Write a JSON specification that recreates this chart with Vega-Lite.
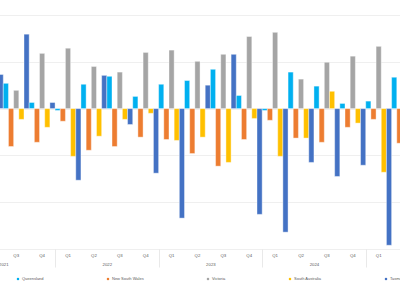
{
  "$schema": "https://vega.github.io/schema/vega-lite/v6.json",
  "width": 400,
  "height": 234,
  "autosize": {"type": "none"},
  "padding": {"left": 0, "top": 15, "right": 0, "bottom": 34},
  "background": "white",
  "config": {"view": {"stroke": null}, "font": "Liberation Sans"},
  "data": {"values": [
    {"q": "2021 Q2", "year": "2021", "state": "Tasmania", "v": 0.73},
    {"q": "2021 Q3", "year": "2021", "state": "Queensland", "v": 0.54},
    {"q": "2021 Q3", "year": "2021", "state": "New South Wales", "v": -0.81},
    {"q": "2021 Q3", "year": "2021", "state": "Victoria", "v": 0.39},
    {"q": "2021 Q3", "year": "2021", "state": "South Australia", "v": -0.23},
    {"q": "2021 Q3", "year": "2021", "state": "Tasmania", "v": 1.59},
    {"q": "2021 Q4", "year": "2021", "state": "Queensland", "v": 0.13},
    {"q": "2021 Q4", "year": "2021", "state": "New South Wales", "v": -0.72},
    {"q": "2021 Q4", "year": "2021", "state": "Victoria", "v": 1.18},
    {"q": "2021 Q4", "year": "2021", "state": "South Australia", "v": -0.40},
    {"q": "2021 Q4", "year": "2021", "state": "Tasmania", "v": 0.13},
    {"q": "2022 Q1", "year": "2022", "state": "Queensland", "v": -0.04},
    {"q": "2022 Q1", "year": "2022", "state": "New South Wales", "v": -0.27},
    {"q": "2022 Q1", "year": "2022", "state": "Victoria", "v": 1.29},
    {"q": "2022 Q1", "year": "2022", "state": "South Australia", "v": -1.02},
    {"q": "2022 Q1", "year": "2022", "state": "Tasmania", "v": -1.53},
    {"q": "2022 Q2", "year": "2022", "state": "Queensland", "v": 0.52},
    {"q": "2022 Q2", "year": "2022", "state": "New South Wales", "v": -0.89},
    {"q": "2022 Q2", "year": "2022", "state": "Victoria", "v": 0.90},
    {"q": "2022 Q2", "year": "2022", "state": "South Australia", "v": -0.59},
    {"q": "2022 Q2", "year": "2022", "state": "Tasmania", "v": 0.71},
    {"q": "2022 Q3", "year": "2022", "state": "Queensland", "v": 0.69},
    {"q": "2022 Q3", "year": "2022", "state": "New South Wales", "v": -0.81},
    {"q": "2022 Q3", "year": "2022", "state": "Victoria", "v": 0.78},
    {"q": "2022 Q3", "year": "2022", "state": "South Australia", "v": -0.23},
    {"q": "2022 Q3", "year": "2022", "state": "Tasmania", "v": -0.34},
    {"q": "2022 Q4", "year": "2022", "state": "Queensland", "v": 0.26},
    {"q": "2022 Q4", "year": "2022", "state": "New South Wales", "v": -0.61},
    {"q": "2022 Q4", "year": "2022", "state": "Victoria", "v": 1.20},
    {"q": "2022 Q4", "year": "2022", "state": "South Australia", "v": -0.10},
    {"q": "2022 Q4", "year": "2022", "state": "Tasmania", "v": -1.38},
    {"q": "2023 Q1", "year": "2023", "state": "Queensland", "v": 0.52},
    {"q": "2023 Q1", "year": "2023", "state": "New South Wales", "v": -0.66},
    {"q": "2023 Q1", "year": "2023", "state": "Victoria", "v": 1.25},
    {"q": "2023 Q1", "year": "2023", "state": "South Australia", "v": -0.68},
    {"q": "2023 Q1", "year": "2023", "state": "Tasmania", "v": -2.34},
    {"q": "2023 Q2", "year": "2023", "state": "Queensland", "v": 0.60},
    {"q": "2023 Q2", "year": "2023", "state": "New South Wales", "v": -0.96},
    {"q": "2023 Q2", "year": "2023", "state": "Victoria", "v": 1.01},
    {"q": "2023 Q2", "year": "2023", "state": "South Australia", "v": -0.61},
    {"q": "2023 Q2", "year": "2023", "state": "Tasmania", "v": 0.50},
    {"q": "2023 Q3", "year": "2023", "state": "Queensland", "v": 0.84},
    {"q": "2023 Q3", "year": "2023", "state": "New South Wales", "v": -1.23},
    {"q": "2023 Q3", "year": "2023", "state": "Victoria", "v": 1.16},
    {"q": "2023 Q3", "year": "2023", "state": "South Australia", "v": -1.15},
    {"q": "2023 Q3", "year": "2023", "state": "Tasmania", "v": 1.16},
    {"q": "2023 Q4", "year": "2023", "state": "Queensland", "v": 0.28},
    {"q": "2023 Q4", "year": "2023", "state": "New South Wales", "v": -0.66},
    {"q": "2023 Q4", "year": "2023", "state": "Victoria", "v": 1.54},
    {"q": "2023 Q4", "year": "2023", "state": "South Australia", "v": -0.21},
    {"q": "2023 Q4", "year": "2023", "state": "Tasmania", "v": -2.26},
    {"q": "2024 Q1", "year": "2024", "state": "Queensland", "v": -0.04},
    {"q": "2024 Q1", "year": "2024", "state": "New South Wales", "v": -0.25},
    {"q": "2024 Q1", "year": "2024", "state": "Victoria", "v": 1.63},
    {"q": "2024 Q1", "year": "2024", "state": "South Australia", "v": -1.02},
    {"q": "2024 Q1", "year": "2024", "state": "Tasmania", "v": -2.64},
    {"q": "2024 Q2", "year": "2024", "state": "Queensland", "v": 0.78},
    {"q": "2024 Q2", "year": "2024", "state": "New South Wales", "v": -0.63},
    {"q": "2024 Q2", "year": "2024", "state": "Victoria", "v": 0.63},
    {"q": "2024 Q2", "year": "2024", "state": "South Australia", "v": -0.63},
    {"q": "2024 Q2", "year": "2024", "state": "Tasmania", "v": -1.15},
    {"q": "2024 Q3", "year": "2024", "state": "Queensland", "v": 0.48},
    {"q": "2024 Q3", "year": "2024", "state": "New South Wales", "v": -0.72},
    {"q": "2024 Q3", "year": "2024", "state": "Victoria", "v": 0.99},
    {"q": "2024 Q3", "year": "2024", "state": "South Australia", "v": 0.37},
    {"q": "2024 Q3", "year": "2024", "state": "Tasmania", "v": -1.45},
    {"q": "2024 Q4", "year": "2024", "state": "Queensland", "v": 0.11},
    {"q": "2024 Q4", "year": "2024", "state": "New South Wales", "v": -0.40},
    {"q": "2024 Q4", "year": "2024", "state": "Victoria", "v": 1.12},
    {"q": "2024 Q4", "year": "2024", "state": "South Australia", "v": -0.31},
    {"q": "2024 Q4", "year": "2024", "state": "Tasmania", "v": -1.21},
    {"q": "2025 Q1", "year": "2025", "state": "Queensland", "v": 0.16},
    {"q": "2025 Q1", "year": "2025", "state": "New South Wales", "v": -0.23},
    {"q": "2025 Q1", "year": "2025", "state": "Victoria", "v": 1.33},
    {"q": "2025 Q1", "year": "2025", "state": "South Australia", "v": -1.36},
    {"q": "2025 Q1", "year": "2025", "state": "Tasmania", "v": -2.92},
    {"q": "2025 Q2", "year": "2025", "state": "Queensland", "v": 0.67},
    {"q": "2025 Q2", "year": "2025", "state": "New South Wales", "v": -0.74}
  ]},
  "layer": [
    {
      "mark": {"type": "bar", "stroke": "white", "strokeWidth": 0.4},
      "encoding": {
        "x": {
          "field": "q", "type": "nominal", "sort": null,
          "scale": {
            "domain": ["2021 Q2", "2021 Q3", "2021 Q4", "2022 Q1", "2022 Q2", "2022 Q3", "2022 Q4", "2023 Q1", "2023 Q2", "2023 Q3", "2023 Q4", "2024 Q1", "2024 Q2", "2024 Q3", "2024 Q4", "2025 Q1", "2025 Q2"],
            "range": [-22.6, 417.5], "paddingInner": 0, "paddingOuter": 0
          },
          "axis": {"orient": "bottom", "title": null, "labelExpr": "split(datum.label, ' ')[1]", "ticks": false, "tickSize": 0, "domain": false, "grid": false, "labelAngle": 0, "labelFontSize": 4.3, "labelColor": "#595959", "labelPadding": 6, "labelBaseline": "middle"}
        },
        "xOffset": {
          "field": "state", "type": "nominal",
          "scale": {"domain": ["Queensland", "New South Wales", "Victoria", "South Australia", "Tasmania"], "paddingInner": 0, "paddingOuter": 0}
        },
        "y": {
          "field": "v", "type": "quantitative",
          "scale": {"domain": [-3, 2], "nice": false},
          "axis": {"title": null, "labels": false, "ticks": false, "domain": false, "values": [-3, -2, -1, 0, 1, 2], "gridColor": "#EBEBEB", "gridWidth": 0.8}
        },
        "color": {
          "field": "state", "type": "nominal",
          "scale": {"domain": ["Queensland", "New South Wales", "Victoria", "South Australia", "Tasmania"], "range": ["#00B0F0", "#ED7D31", "#A5A5A5", "#FFC000", "#4472C4"]},
          "legend": {"orient": "none", "legendX": 16, "legendY": 262, "direction": "horizontal", "title": null, "symbolType": "square", "symbolSize": 5, "symbolStrokeWidth": 0, "labelFontSize": 4, "labelColor": "#595959", "columnPadding": 62, "labelOffset": 2, "labelLimit": 200}
        }
      }
    },
    {
      "mark": {"type": "rule", "opacity": 0},
      "encoding": {
        "x": {
          "field": "year", "type": "nominal", "sort": null,
          "scale": {"domain": ["2021", "2022", "2023", "2024", "2025"], "range": [-48.5, 469.3], "paddingInner": 0, "paddingOuter": 0},
          "axis": {"orient": "bottom", "title": null, "tickBand": "extent", "tickSize": 18, "tickColor": "#E3E3E3", "tickWidth": 0.8, "domain": false, "grid": false, "labelAngle": 0, "labelFontSize": 4.3, "labelColor": "#595959", "labelPadding": -3, "labelBaseline": "middle"}
        }
      }
    }
  ],
  "resolve": {"scale": {"x": "independent"}}
}
